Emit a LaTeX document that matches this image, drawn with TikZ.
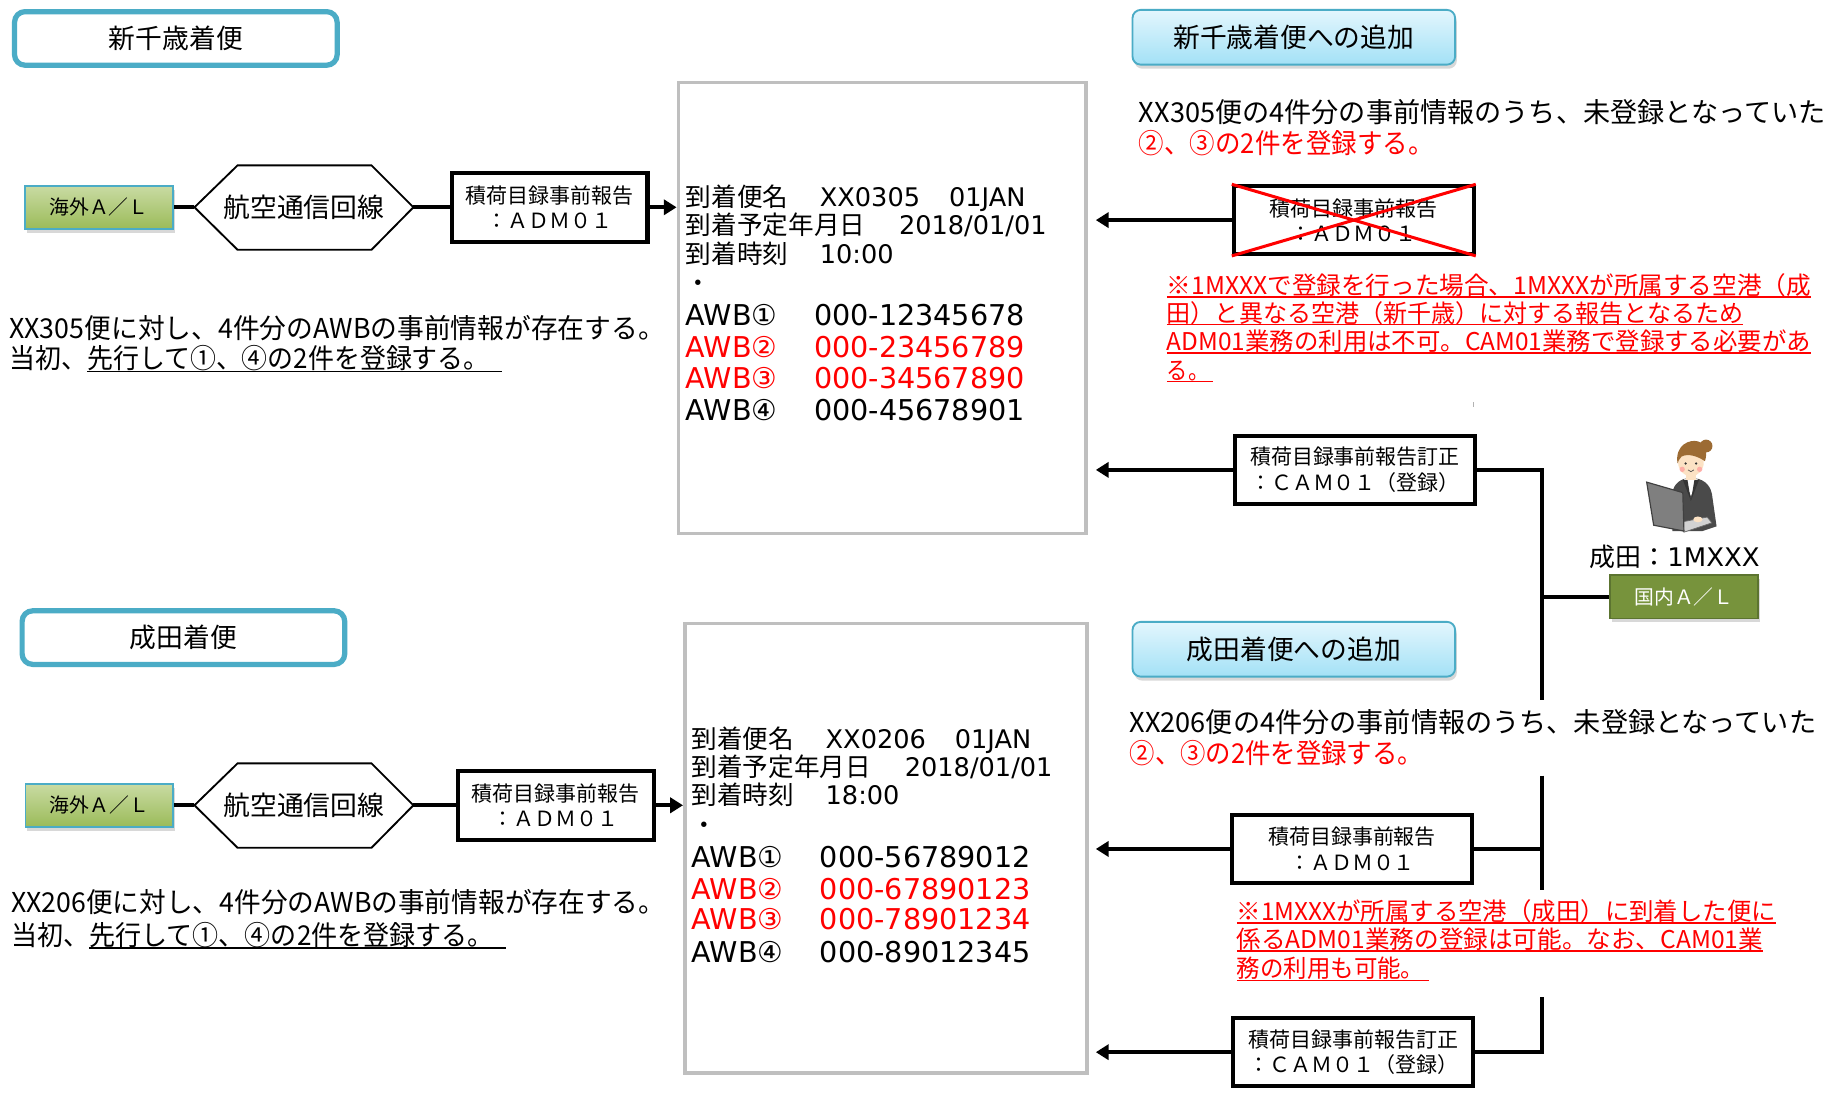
\documentclass[tikz,border=0pt]{standalone}
\usepackage{fontspec}
\usepackage{graphicx}
\setmainfont{Noto Sans CJK JP}
\newfontfamily\lat{DejaVu Sans}
\usetikzlibrary{arrows.meta,shadows,calc}

\definecolor{frameblue}{HTML}{4BACC6}
\definecolor{skyTop}{HTML}{E3F6FD}
\definecolor{skyBot}{HTML}{A3E1F6}
\definecolor{leafTop}{HTML}{C9DBA3}
\definecolor{leafBot}{HTML}{9BBB59}
\definecolor{olive}{HTML}{77933C}
\definecolor{oliveDark}{HTML}{5C7430}
\definecolor{paneGray}{HTML}{BFBFBF}
\definecolor{alert}{HTML}{FF0000}
\definecolor{suit}{HTML}{4A4A4A}
\definecolor{skin}{HTML}{FCE2C4}
\definecolor{hair}{HTML}{9C6B33}
\definecolor{screen}{HTML}{7F7F7F}

\newcommand\fs[1]{\fontsize{#1pt}{#1pt}\selectfont}
\newcommand\fsl[2]{\fontsize{#1pt}{#2pt}\selectfont}
\newcommand\fitw[2]{\resizebox{#1pt}{\height}{#2}}
\newsavebox\ulbox
\newcommand\uline[1]{\sbox\ulbox{#1}\rlap{\rule[-2.8pt]{\wd\ulbox}{1.3pt}}\usebox\ulbox}

\tikzset{
  titlebox/.style={draw=frameblue, line width=4.5pt, rounded corners=9pt, fill=white,
    minimum width=277pt, minimum height=46pt, inner sep=0pt, font=\fs{23}},
  addbox/.style={draw=frameblue, line width=1.6pt, rounded corners=7pt,
    top color=skyTop, bottom color=skyBot, minimum width=277pt, minimum height=47pt,
    inner sep=0pt, font=\fs{23},
    drop shadow={shadow xshift=1.5pt, shadow yshift=-3.5pt, opacity=.3}},
  carrier/.style={draw=frameblue, line width=1.5pt, top color=leafTop, bottom color=leafBot,
    minimum width=127pt, minimum height=37pt, inner sep=0pt, font=\fs{17},
    drop shadow={shadow xshift=1.5pt, shadow yshift=-3.5pt, opacity=.3}},
  homeair/.style={draw=oliveDark, line width=1.5pt, fill=olive, text=white,
    minimum width=127pt, minimum height=37pt, inner sep=0pt, font=\fs{17},
    drop shadow={shadow xshift=1.5pt, shadow yshift=-3.5pt, opacity=.3}},
  msgbox/.style={draw, line width=3.5pt, fill=white, minimum width=168pt, minimum height=59pt,
    inner sep=0pt, align=center, font=\fsl{18}{22}},
  wide/.style={minimum width=206pt, minimum height=58pt},
  pane/.style={draw=paneGray, line width=3pt, inner sep=0pt},
  hexline/.style={line width=1.6pt, line join=miter},
  link/.style={line width=3.5pt},
  feed/.style={link, -{Triangle[length=11pt,width=13pt]}},
  prose/.style={anchor=base west, inner sep=0pt, outer sep=0pt, font=\fs{23.5}},
  note/.style={prose, text=alert, font=\fs{21}},
  rowtxt/.style={anchor=base west, inner sep=0pt, outer sep=0pt, font=\fs{22}},
  awbtxt/.style={anchor=base west, inner sep=0pt, outer sep=0pt, font=\lat\fs{24.6}},
  cross/.style={alert, line width=2.6pt},
}

\begin{document}
\begin{tikzpicture}[x=1pt,y=-1pt]
\path[use as bounding box, fill=white] (0,0) rectangle (1568,940);

% ================= 新千歳着便 =================
\node[titlebox] (t1) at (151,33) {新千歳着便};
\node[carrier] (gl1) at (85,178) {海外Ａ／Ｌ};
\node[font=\fs{23}, inner sep=0pt] (hx1) at (261,178) {航空通信回線};
\coordinate (hx1w) at (167,178);
\coordinate (hx1e) at (355,178);
\draw[hexline] (hx1w) -- (204,142) -- (319,142) -- (hx1e) -- (319,214.5) -- (204,214.5) -- cycle;
\node[msgbox] (adm1) at (472,178) {積荷目録事前報告\\：ＡＤＭ０１};
\node[pane, minimum width=350pt, minimum height=387pt] (pane1) at (757.5,264.5) {};
\draw[link] (gl1.east) -- (hx1w);
\draw[link] (hx1e) -- (adm1.west);
\draw[feed] (adm1.east) -- (adm1.east -| pane1.west);

\node[prose] (l1a) at (8,290.8) {\fitw{563}{XX305便に対し、4件分のAWBの事前情報が存在する。}};
\node[prose] (l1b) at (8,316.8) {\fitw{423}{当初、\uline{先行して①、④の2件を登録する。\kern11pt}}};

% flight record, XX0305
\node[rowtxt] (f1a) at (589,177.4) {\makebox[115pt][l]{到着便名}\makebox[111pt][l]{\lat XX0305}{\lat 01JAN}};
\node[rowtxt] (f1b) at (589,201.4) {\makebox[183pt][l]{到着予定年月日}{\lat 2018/01/01}};
\node[rowtxt] (f1c) at (589,226) {\makebox[115pt][l]{到着時刻}{\lat 10:00}};
\node[rowtxt] (f1d) at (589,251.4) {・};
\node[awbtxt] (w11) at (589,279.5) {\makebox[110pt][l]{AWB①}000-12345678};
\node[awbtxt, text=alert] (w12) at (589,307) {\makebox[110pt][l]{AWB②}000-23456789};
\node[awbtxt, text=alert] (w13) at (589,334) {\makebox[110pt][l]{AWB③}000-34567890};
\node[awbtxt] (w14) at (589,361) {\makebox[110pt][l]{AWB④}000-45678901};

% ================= 新千歳着便への追加 =================
\node[addbox] (a1) at (1111,32) {新千歳着便への追加};
\node[prose] (r1a) at (978,104.8) {\fitw{589.5}{XX305便の4件分の事前情報のうち、未登録となっていた}};
\node[prose, text=alert] (r1b) at (978,131.8) {\fitw{253}{②、③の2件を登録する。}};

\node[msgbox, wide] (xadm) at (1162.5,189) {積荷目録事前報告\\：ＡＤＭ０１};
\draw[cross] (xadm.north west) -- (xadm.south east);
\draw[cross] (xadm.south west) -- (xadm.north east);
\draw[feed] (xadm.west) -- ($(xadm.west -| pane1.east)+(7,0)$);

\node[note] (n1a) at (1002,253) {\fitw{553}{\uline{※1MXXXで登録を行った場合、1MXXXが所属する空港（成}}};
\node[note] (n1b) at (1002,276.6) {\fitw{495}{\uline{田）と異なる空港（新千歳）に対する報告となるため}}};
\node[note] (n1c) at (1002,301) {\fitw{553}{\uline{ADM01業務の利用は不可。CAM01業務で登録する必要があ}}};
\node[note] (n1d) at (1002,325.6) {\fitw{40}{\uline{る。\kern4pt}}};
\draw[gray!60, line width=0.8pt] (1265,345.5) -- (1265,349.5);

\node[msgbox, wide] (cam1) at (1163.5,403.5) {積荷目録事前報告訂正\\：ＣＡＭ０１（登録）};
\draw[feed] (cam1.west) -- ($(cam1.west -| pane1.east)+(7,0)$);

% ================= 成田 user and bus =================
\coordinate (busTop) at (1324,601);
\coordinate (busJoin) at (1324,512.5);
\coordinate (busMidA) at (1324,666);
\coordinate (busMidB) at (1324,764);
\coordinate (busLow) at (1324,856);
\node[homeair] (home) at (1446,512.5) {国内Ａ／Ｌ};
\node[font=\fs{22}, inner sep=0pt] (user) at (1438,478.5) {\fitw{146}{成田：{\lat 1MXXX}}};
\draw[link] (cam1.east) -| (busTop);
\draw[link] (busJoin) -- (home.west);

% person at laptop
\fill[suit] (1436,456) -- (1436,424) .. controls (1437,415) and (1443,411) .. (1452,410)
  .. controls (1462,411) and (1468,415) .. (1470,424) -- (1474,452) -- (1462,456) -- cycle;
\fill[white] (1446,411) -- (1452,426) -- (1458,411) -- cycle;
\fill[suit!70!black] (1445,412) -- (1452,430) -- (1449,412) -- cycle;
\fill[suit!70!black] (1459,412) -- (1452,430) -- (1455,412) -- cycle;
\fill[skin] (1448,406) rectangle (1456,412);
\fill[skin] (1452,397) ellipse [x radius=11, y radius=12];
\fill[hair] (1465,383) circle [radius=5.5];
\fill[hair] (1440.5,398) .. controls (1438,382) and (1451,377) .. (1458,379)
  .. controls (1466,381) and (1466,390) .. (1464,396)
  .. controls (1458,392) and (1450,389) .. (1444,392) .. controls (1442,394) and (1441,396) .. (1440.5,398) -- cycle;
\fill[black!80] (1447.5,398) circle [radius=1.1];
\fill[black!80] (1456.5,398) circle [radius=1.1];
\fill[red!40, opacity=.7] (1444.5,403) circle [radius=2.3];
\fill[red!40, opacity=.7] (1459.5,403) circle [radius=2.3];
\draw[black!70, line width=0.6pt] (1449.5,403.5) .. controls (1451,405.5) and (1453,405.5) .. (1454.5,403.5);
\fill[gray!35, draw=black!60, line width=0.6pt] (1440,449) -- (1466,444) -- (1470,449) -- (1446,457) -- cycle;
\fill[skin] (1458,446) ellipse [x radius=4, y radius=2.5];
\fill[screen, draw=black!75, line width=1pt] (1414,414) -- (1445,423) -- (1446,456) -- (1420,451) -- cycle;

% ================= 成田着便 =================
\node[titlebox] (t2) at (157.5,547.5) {成田着便};
\node[carrier] (gl2) at (85.3,691.5) {海外Ａ／Ｌ};
\node[font=\fs{23}, inner sep=0pt] (hx2) at (261,691.5) {航空通信回線};
\coordinate (hx2w) at (167,691.5);
\coordinate (hx2e) at (355,691.5);
\draw[hexline] (hx2w) -- (204,655.5) -- (319,655.5) -- (hx2e) -- (319,728) -- (204,728) -- cycle;
\node[msgbox] (adm2) at (477.3,691.5) {積荷目録事前報告\\：ＡＤＭ０１};
\node[pane, minimum width=345.5pt, minimum height=386pt] (pane2) at (760.75,728.5) {};
\draw[link] (gl2.east) -- (hx2w);
\draw[link] (hx2e) -- (adm2.west);
\draw[feed] (adm2.east) -- (adm2.east -| pane2.west);

\node[prose] (l2a) at (9.6,783.4) {\fitw{561.5}{XX206便に対し、4件分のAWBの事前情報が存在する。}};
\node[prose] (l2b) at (9.6,811.8) {\fitw{425}{当初、\uline{先行して①、④の2件を登録する。\kern11pt}}};

% flight record, XX0206
\node[rowtxt] (f2a) at (594,642.4) {\makebox[115pt][l]{到着便名}\makebox[111pt][l]{\lat XX0206}{\lat 01JAN}};
\node[rowtxt] (f2b) at (594,666.4) {\makebox[183pt][l]{到着予定年月日}{\lat 2018/01/01}};
\node[rowtxt] (f2c) at (594,690.4) {\makebox[115pt][l]{到着時刻}{\lat 18:00}};
\node[rowtxt] (f2d) at (594,716.4) {・};
\node[awbtxt] (w21) at (594,745) {\makebox[110pt][l]{AWB①}000-56789012};
\node[awbtxt, text=alert] (w22) at (594,772) {\makebox[110pt][l]{AWB②}000-67890123};
\node[awbtxt, text=alert] (w23) at (594,798.5) {\makebox[110pt][l]{AWB③}000-78901234};
\node[awbtxt] (w24) at (594,826.5) {\makebox[110pt][l]{AWB④}000-89012345};

% ================= 成田着便への追加 =================
\node[addbox] (a2) at (1111,557.5) {成田着便への追加};
\node[prose] (r2a) at (970,628.8) {\fitw{589.5}{XX206便の4件分の事前情報のうち、未登録となっていた}};
\node[prose, text=alert] (r2b) at (970,655.8) {\fitw{252}{②、③の2件を登録する。}};

\node[msgbox, wide] (adm3) at (1161,729) {積荷目録事前報告\\：ＡＤＭ０１};
\draw[feed] (adm3.west) -- ($(adm3.west -| pane2.east)+(6,0)$);
\draw[link] (busMidA) -- (busMidB);
\draw[link] (adm3.east) -- (adm3.east -| busMidA);

\node[note] (n2a) at (1062,790.6) {\fitw{463}{\uline{※1MXXXが所属する空港（成田）に到着した便に}}};
\node[note] (n2b) at (1062,814.6) {\fitw{452}{\uline{係るADM01業務の登録は可能。なお、CAM01業}}};
\node[note] (n2c) at (1062,839.6) {\fitw{165}{\uline{務の利用も可能。\kern4pt}}};

\node[msgbox, wide] (cam2) at (1162,903.5) {積荷目録事前報告訂正\\：ＣＡＭ０１（登録）};
\draw[feed] (cam2.west) -- ($(cam2.west -| pane2.east)+(6,0)$);
\draw[link] (cam2.east) -| (busLow);

\end{tikzpicture}
\end{document}
